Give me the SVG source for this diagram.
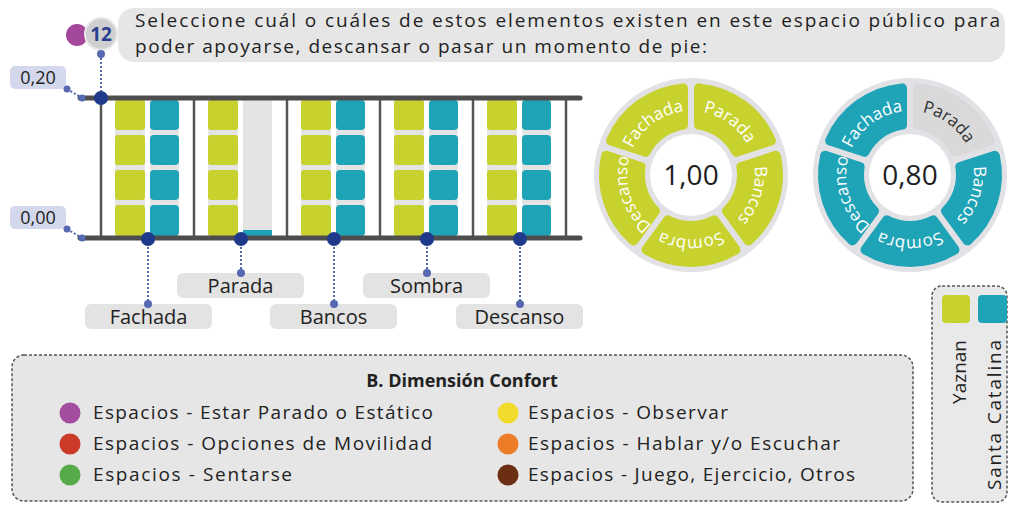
<svg xmlns="http://www.w3.org/2000/svg" xmlns:xlink="http://www.w3.org/1999/xlink" width="1010" height="506" viewBox="0 0 1010 506">
<style>
text{font-family:"Open Sans","Noto Sans",sans-serif;fill:#222}
.axis{stroke:#4d4d4d;stroke-width:5;stroke-linecap:round}
.sep{stroke:#555;stroke-width:2.5}
.bg{fill:#e4e4e4}
.y{fill:#c8d22f}
.t{fill:#1fa4b7}
.dot{fill:#1f3a8a}
.sdot{fill:#5568b0}
.dash{stroke:#5568b0;stroke-width:2;stroke-dasharray:2 2;fill:none}
.lbl{fill:#e3e3e3}
.ltxt{font-size:20px;text-anchor:middle}
.segY{fill:#c8d22f;stroke:#c8d22f;stroke-width:10;stroke-linejoin:round}
.segT{fill:#1fa4b7;stroke:#1fa4b7;stroke-width:10;stroke-linejoin:round}
.segG{fill:#d9d9d9;stroke:#d9d9d9;stroke-width:10;stroke-linejoin:round}
.stw{font-size:17px;fill:#ffffff}
.std{font-size:17px;fill:#333}
.leg{font-size:19px}
.box{fill:#e6e6e6;stroke:#555;stroke-width:1.5;stroke-dasharray:3 2}
</style>
<defs>
<path id="seg" d="M -44.44 -74.79 A 87 87 0 0 1 44.44 -74.79 L 23.13 -45.45 A 51 51 0 0 0 -23.13 -45.45 Z"/>
<path id="tarc" d="M -55.43 -32 A 64 64 0 0 1 55.43 -32"/>
</defs>
<rect width="1010" height="506" fill="#ffffff"/>

<g id="question">
<rect x="118" y="8" width="887" height="54" rx="16" fill="#e6e6e6"/>
<circle cx="77" cy="35" r="11" fill="#a3489a"/>
<circle cx="101" cy="34" r="16" fill="#cfcfcf" stroke="#e9e9e9" stroke-width="2"/>
<text x="101" y="41" font-size="19" font-weight="bold" text-anchor="middle" style="fill:#2a3f8f">12</text>
<text x="135" y="27" font-size="19" textLength="865" lengthAdjust="spacing">Seleccione cuál o cuáles de estos elementos existen en este espacio público para</text>
<text x="135" y="53" font-size="19" textLength="572" lengthAdjust="spacing">poder apoyarse, descansar o pasar un momento de pie:</text>
</g>

<g id="axis-labels">
<rect x="10" y="66" width="56" height="23" rx="5" fill="#d3d8ec"/>
<text x="38" y="84" font-size="18" text-anchor="middle">0,20</text>
<rect x="10" y="206" width="56" height="23" rx="5" fill="#d3d8ec"/>
<text x="38" y="224" font-size="18" text-anchor="middle">0,00</text>
</g>

<g id="chart">
<g id="columns">
<rect class="bg" x="115" y="100" width="30" height="136"/>
<rect class="bg" x="150" y="100" width="29" height="136"/>
<rect class="bg" x="208" y="100" width="30" height="136"/>
<rect class="bg" x="243" y="100" width="29" height="136"/>
<rect class="bg" x="301" y="100" width="30" height="136"/>
<rect class="bg" x="336" y="100" width="29" height="136"/>
<rect class="bg" x="394" y="100" width="30" height="136"/>
<rect class="bg" x="429" y="100" width="29" height="136"/>
<rect class="bg" x="487" y="100" width="30" height="136"/>
<rect class="bg" x="522" y="100" width="29" height="136"/>
</g>
<g id="fachada-bars">
<rect class="y" x="115" y="100" width="30" height="30" rx="3"/><rect class="y" x="115" y="135" width="30" height="30" rx="3"/><rect class="y" x="115" y="170" width="30" height="30" rx="3"/><rect class="y" x="115" y="205" width="30" height="31" rx="3"/>
<rect class="t" x="150" y="100" width="29" height="30" rx="4"/><rect class="t" x="150" y="135" width="29" height="30" rx="4"/><rect class="t" x="150" y="170" width="29" height="30" rx="4"/><rect class="t" x="150" y="205" width="29" height="31" rx="4"/>
</g>
<g id="parada-bars">
<rect class="y" x="208" y="100" width="30" height="30" rx="3"/><rect class="y" x="208" y="135" width="30" height="30" rx="3"/><rect class="y" x="208" y="170" width="30" height="30" rx="3"/><rect class="y" x="208" y="205" width="30" height="31" rx="3"/>
<rect class="t" x="243" y="230" width="29" height="6"/>
</g>
<g id="bancos-bars">
<rect class="y" x="301" y="100" width="30" height="30" rx="3"/><rect class="y" x="301" y="135" width="30" height="30" rx="3"/><rect class="y" x="301" y="170" width="30" height="30" rx="3"/><rect class="y" x="301" y="205" width="30" height="31" rx="3"/>
<rect class="t" x="336" y="100" width="29" height="30" rx="4"/><rect class="t" x="336" y="135" width="29" height="30" rx="4"/><rect class="t" x="336" y="170" width="29" height="30" rx="4"/><rect class="t" x="336" y="205" width="29" height="31" rx="4"/>
</g>
<g id="sombra-bars">
<rect class="y" x="394" y="100" width="30" height="30" rx="3"/><rect class="y" x="394" y="135" width="30" height="30" rx="3"/><rect class="y" x="394" y="170" width="30" height="30" rx="3"/><rect class="y" x="394" y="205" width="30" height="31" rx="3"/>
<rect class="t" x="429" y="100" width="29" height="30" rx="4"/><rect class="t" x="429" y="135" width="29" height="30" rx="4"/><rect class="t" x="429" y="170" width="29" height="30" rx="4"/><rect class="t" x="429" y="205" width="29" height="31" rx="4"/>
</g>
<g id="descanso-bars">
<rect class="y" x="487" y="100" width="30" height="30" rx="3"/><rect class="y" x="487" y="135" width="30" height="30" rx="3"/><rect class="y" x="487" y="170" width="30" height="30" rx="3"/><rect class="y" x="487" y="205" width="30" height="31" rx="3"/>
<rect class="t" x="522" y="100" width="29" height="30" rx="4"/><rect class="t" x="522" y="135" width="29" height="30" rx="4"/><rect class="t" x="522" y="170" width="29" height="30" rx="4"/><rect class="t" x="522" y="205" width="29" height="31" rx="4"/>
</g>
<g id="frame">
<line class="sep" x1="101" y1="98" x2="101" y2="238"/>
<line class="sep" x1="194" y1="98" x2="194" y2="238"/>
<line class="sep" x1="287" y1="98" x2="287" y2="238"/>
<line class="sep" x1="380" y1="98" x2="380" y2="238"/>
<line class="sep" x1="473" y1="98" x2="473" y2="238"/>
<line class="sep" x1="566" y1="98" x2="566" y2="238"/>
<line class="axis" x1="80" y1="98" x2="580" y2="98"/>
<line class="axis" x1="80" y1="238" x2="580" y2="238"/>
</g>
</g>

<g id="labels">
<rect class="lbl" x="85" y="304" width="127" height="25" rx="6"/>
<text class="ltxt" x="148.5" y="324">Fachada</text>
<rect class="lbl" x="177" y="273" width="127" height="25" rx="6"/>
<text class="ltxt" x="240.5" y="293">Parada</text>
<rect class="lbl" x="270" y="304" width="127" height="25" rx="6"/>
<text class="ltxt" x="333.5" y="324">Bancos</text>
<rect class="lbl" x="363" y="273" width="127" height="25" rx="6"/>
<text class="ltxt" x="426.5" y="293">Sombra</text>
<rect class="lbl" x="456" y="304" width="127" height="25" rx="6"/>
<text class="ltxt" x="519.5" y="324">Descanso</text>
</g>

<g id="connectors">
<line class="dash" x1="101" y1="54" x2="101" y2="98"/>
<line class="dash" x1="67" y1="89" x2="82" y2="98"/>
<line class="dash" x1="67" y1="229" x2="82" y2="238"/>
<line class="dash" x1="148" y1="239" x2="148" y2="304"/>
<line class="dash" x1="241" y1="239" x2="241" y2="273"/>
<line class="dash" x1="334" y1="239" x2="334" y2="304"/>
<line class="dash" x1="427" y1="239" x2="427" y2="273"/>
<line class="dash" x1="520" y1="239" x2="520" y2="304"/>
<circle class="sdot" cx="101" cy="54" r="4"/>
<circle class="sdot" cx="67" cy="89" r="3.5"/>
<circle class="sdot" cx="82" cy="98" r="3.5"/>
<circle class="sdot" cx="67" cy="229" r="3.5"/>
<circle class="sdot" cx="82" cy="238" r="3.5"/>
<circle class="dot" cx="101" cy="98" r="7"/>
<circle class="dot" cx="148" cy="239" r="7"/>
<circle class="dot" cx="241" cy="239" r="7"/>
<circle class="dot" cx="334" cy="239" r="7"/>
<circle class="dot" cx="427" cy="239" r="7"/>
<circle class="dot" cx="520" cy="239" r="7"/>
<circle class="sdot" cx="148" cy="304" r="4"/>
<circle class="sdot" cx="241" cy="273" r="4"/>
<circle class="sdot" cx="334" cy="304" r="4"/>
<circle class="sdot" cx="427" cy="273" r="4"/>
<circle class="sdot" cx="520" cy="304" r="4"/>
</g>

<g id="donut-yaznan" transform="translate(691,175)">
<circle r="97" fill="#e2e2e6"/>
<circle r="41" fill="#ffffff"/>
<use href="#seg" class="segY" transform="rotate(-36)"/>
<use href="#seg" class="segY" transform="rotate(36)"/>
<use href="#seg" class="segY" transform="rotate(108)"/>
<use href="#seg" class="segY" transform="rotate(180)"/>
<use href="#seg" class="segY" transform="rotate(252)"/>
<text class="stw" transform="rotate(-36)"><textPath href="#tarc" startOffset="50%" text-anchor="middle">Fachada</textPath></text>
<text class="stw" transform="rotate(36)"><textPath href="#tarc" startOffset="50%" text-anchor="middle">Parada</textPath></text>
<text class="stw" transform="rotate(108)"><textPath href="#tarc" startOffset="50%" text-anchor="middle">Bancos</textPath></text>
<text class="stw" transform="rotate(180)"><textPath href="#tarc" startOffset="50%" text-anchor="middle">Sombra</textPath></text>
<text class="stw" transform="rotate(252)"><textPath href="#tarc" startOffset="50%" text-anchor="middle">Descanso</textPath></text>
<text x="0" y="10" font-size="28" text-anchor="middle" style="fill:#1e1e1e">1,00</text>
</g>

<g id="donut-santa-catalina" transform="translate(910,175)">
<circle r="97" fill="#e2e2e6"/>
<circle r="41" fill="#ffffff"/>
<use href="#seg" class="segT" transform="rotate(-36)"/>
<use href="#seg" class="segG" transform="rotate(36)"/>
<use href="#seg" class="segT" transform="rotate(108)"/>
<use href="#seg" class="segT" transform="rotate(180)"/>
<use href="#seg" class="segT" transform="rotate(252)"/>
<text class="stw" transform="rotate(-36)"><textPath href="#tarc" startOffset="50%" text-anchor="middle">Fachada</textPath></text>
<text class="std" transform="rotate(36)"><textPath href="#tarc" startOffset="50%" text-anchor="middle">Parada</textPath></text>
<text class="stw" transform="rotate(108)"><textPath href="#tarc" startOffset="50%" text-anchor="middle">Bancos</textPath></text>
<text class="stw" transform="rotate(180)"><textPath href="#tarc" startOffset="50%" text-anchor="middle">Sombra</textPath></text>
<text class="stw" transform="rotate(252)"><textPath href="#tarc" startOffset="50%" text-anchor="middle">Descanso</textPath></text>
<text x="0" y="10" font-size="28" text-anchor="middle" style="fill:#1e1e1e">0,80</text>
</g>

<g id="legend-confort">
<rect class="box" x="12" y="355" width="901" height="146" rx="12"/>
<text x="462" y="387" font-size="18" font-weight="bold" text-anchor="middle">B. Dimensión Confort</text>
<circle cx="70" cy="413" r="10.5" fill="#a34d9f"/>
<text class="leg" x="93" y="419" textLength="340" lengthAdjust="spacing">Espacios - Estar Parado o Estático</text>
<circle cx="70" cy="444" r="10.5" fill="#cc3b2a"/>
<text class="leg" x="93" y="450" textLength="339" lengthAdjust="spacing">Espacios - Opciones de Movilidad</text>
<circle cx="70" cy="475" r="10.5" fill="#55ab47"/>
<text class="leg" x="93" y="481" textLength="199" lengthAdjust="spacing">Espacios - Sentarse</text>
<circle cx="508" cy="413" r="10.5" fill="#f1dc2b"/>
<text class="leg" x="528" y="419" textLength="200" lengthAdjust="spacing">Espacios - Observar</text>
<circle cx="508" cy="444" r="10.5" fill="#ec7d26"/>
<text class="leg" x="528" y="450" textLength="312" lengthAdjust="spacing">Espacios - Hablar y/o Escuchar</text>
<circle cx="508" cy="475" r="10.5" fill="#6b2e12"/>
<text class="leg" x="528" y="481" textLength="327" lengthAdjust="spacing">Espacios - Juego, Ejercicio, Otros</text>
</g>

<g id="legend-sites">
<rect class="box" x="932" y="286" width="75" height="216" rx="10" style="fill:#e9e9e9"/>
<rect x="942" y="295" width="28" height="28" rx="4" fill="#c8d22f"/>
<rect x="978" y="295" width="29" height="28" rx="4" fill="#1fa4b7"/>
<text font-size="19" text-anchor="end" transform="translate(966,340) rotate(-90)">Yaznan</text>
<text font-size="19" text-anchor="end" textLength="150" lengthAdjust="spacing" transform="translate(1001,340) rotate(-90)">Santa Catalina</text>
</g>
</svg>
